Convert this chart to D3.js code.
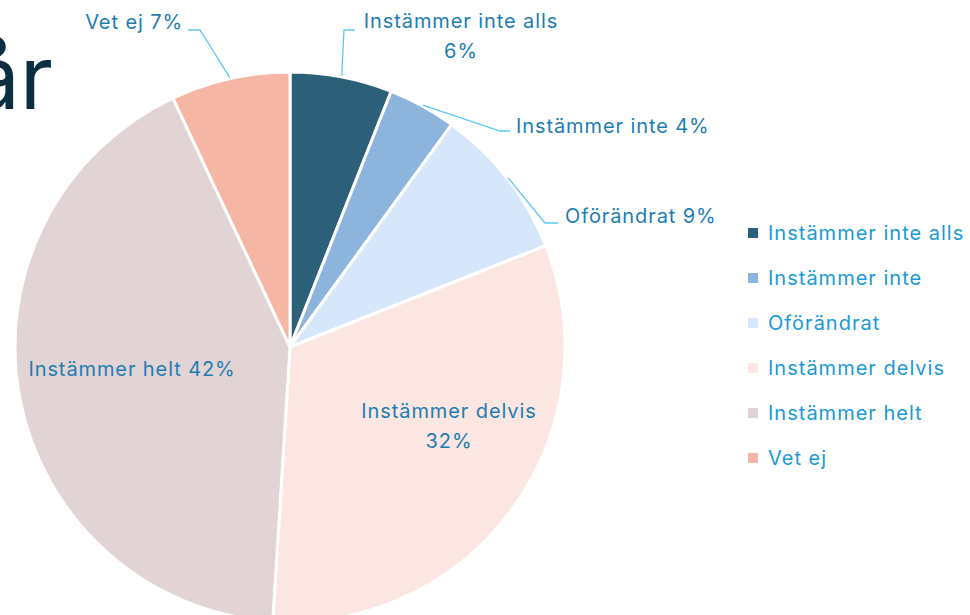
<!DOCTYPE html>
<html lang="sv">
<head>
  <meta charset="UTF-8" />
  <title>Pie</title>
  <script src="https://d3js.org/d3.v7.min.js"></script>
  <style>
    body { margin: 0; background: #fff; font-family: Inter, "Noto Sans", sans-serif; }
    svg { display: block; }
  </style>
</head>
<body>
  <svg id="chart" width="970" height="615"></svg>
  <script>
    // data
    const categories = ["Instämmer inte alls", "Instämmer inte", "Oförändrat", "Instämmer delvis", "Instämmer helt", "Vet ej"];
    const values = [6, 4, 9, 32, 42, 7];
    const colors = ["#2c6079", "#8db4dd", "#d6e7fb", "#fbe6e1", "#e2d4d5", "#f5b6a5"];

    // label layout (outside labels get a leader line)
    const labelLayout = [
      { lines: ["Instämmer inte alls", "6%"], x: 461, y: 28, anchor: "middle", elbow: [344, 30], end: [355, 30] },
      { lines: ["Instämmer inte 4%"], x: 516, y: 133, anchor: "start", elbow: [500, 131], end: [510, 131] },
      { lines: ["Oförändrat 9%"], x: 565, y: 223, anchor: "start", elbow: [545, 223], end: [558, 223] },
      { lines: ["Instämmer delvis", "32%"], x: 449, y: 418, anchor: "middle" },
      { lines: ["Instämmer helt 42%"], x: 132, y: 376, anchor: "middle" },
      { lines: ["Vet ej 7%"], x: 183, y: 29, anchor: "end", elbow: [200, 30], end: [188, 30] }
    ];

    const svg = d3.select("#chart");
    const cx = 290, cy = 347, r = 275;

    // title fragment cut at the left edge
    svg.append("text")
      .attr("x", 53).attr("y", 109)
      .attr("text-anchor", "end")
      .attr("font-size", 88)
      .attr("fill", "#0b2e40")
      .text("år");

    const pie = d3.pie().sort(null).value(d => d)(values);
    const arc = d3.arc().innerRadius(0).outerRadius(r);

    const g = svg.append("g").attr("transform", `translate(${cx},${cy})`);
    g.selectAll("path")
      .data(pie)
      .join("path")
      .attr("d", arc)
      .attr("fill", (d, i) => colors[i])
      .attr("stroke", "#fff")
      .attr("stroke-width", 3)
      .attr("stroke-linejoin", "round");

    // leader lines
    pie.forEach((d, i) => {
      const lay = labelLayout[i];
      if (!lay.elbow) return;
      const a = (d.startAngle + d.endAngle) / 2;
      const sx = cx + Math.sin(a) * (r + 1);
      const sy = cy - Math.cos(a) * (r + 1);
      svg.append("polyline")
        .attr("points", [[sx, sy], lay.elbow, lay.end].map(p => p.join(",")).join(" "))
        .attr("fill", "none")
        .attr("stroke", "#5ec8f4")
        .attr("stroke-width", 1.3);
    });

    // data labels
    labelLayout.forEach(lay => {
      const t = svg.append("text")
        .attr("x", lay.x).attr("y", lay.y)
        .attr("text-anchor", lay.anchor)
        .attr("font-size", 20)
        .attr("letter-spacing", 0.9)
        .attr("fill", "#1d7db2");
      lay.lines.forEach((ln, k) => {
        t.append("tspan").attr("x", lay.x).attr("dy", k === 0 ? 0 : 30).text(ln);
      });
    });

    // legend
    const legend = svg.append("g").attr("transform", "translate(748,233)");
    categories.forEach((c, i) => {
      const row = legend.append("g").attr("transform", `translate(0,${i * 45})`);
      row.append("rect").attr("x", 0).attr("y", -5).attr("width", 10).attr("height", 10).attr("fill", colors[i]);
      row.append("text").attr("x", 20).attr("y", 7)
        .attr("font-size", 20)
        .attr("letter-spacing", 1)
        .attr("fill", "#1a9ad6")
        .text(c);
    });
  </script>
</body>
</html>
